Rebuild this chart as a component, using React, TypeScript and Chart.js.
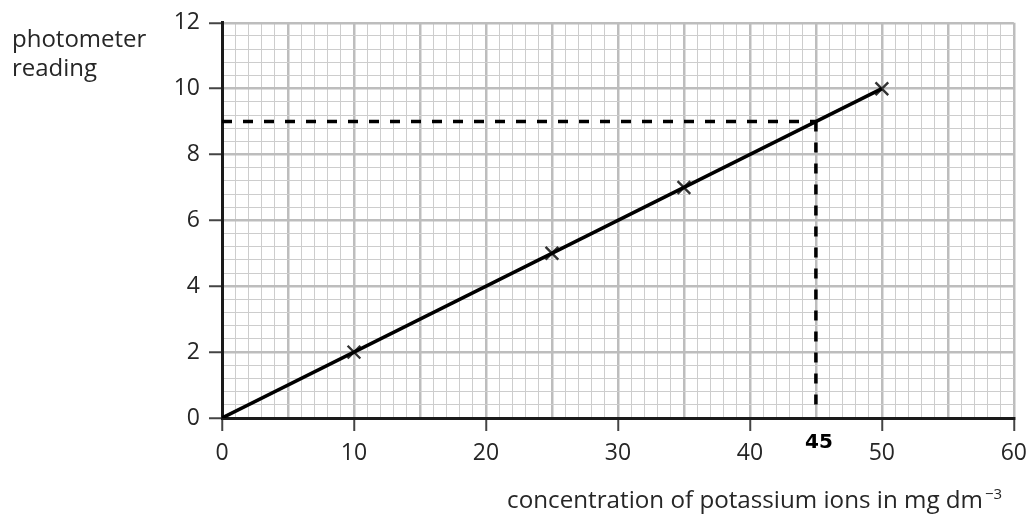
import React, { useEffect, useRef } from "react";
import { Chart, registerables } from "chart.js";

Chart.register(...registerables);

const xTickLabels = [0, 10, 20, 30, 40, 50, 60];
const yTickLabels = [0, 2, 4, 6, 8, 10, 12];
const concentration = [10, 25, 35, 50];
const reading = [2, 5, 7, 10];
const fitX = [0, 50];
const fitY = [0, 10];
const readOffX = [0, 45, 45];
const readOffY = [9, 9, 0.15];
const readLabel = "45";
const yTitleLines = ["photometer", "reading"];
const xTitle = "concentration of potassium ions in mg dm";
const xTitleSup = "\u22123";

const FONT = "'Open Sans', 'Noto Sans', sans-serif";
const TEXT = "#262626";

const isMult = (v: number, m: number) => Math.abs(v / m - Math.round(v / m)) < 1e-6;

const textPlugin = {
  id: "texts",
  afterDraw(chart: any) {
    const ctx = chart.ctx;
    const xs = chart.scales.x;
    ctx.save();
    ctx.fillStyle = TEXT;
    ctx.textAlign = "left";
    ctx.textBaseline = "alphabetic";
    ctx.font = `24px ${FONT}`;
    ctx.fillText(yTitleLines[0], 12, 47);
    ctx.fillText(yTitleLines[1], 12, 76);

    ctx.font = `24.2px ${FONT}`;
    ctx.textAlign = "right";
    ctx.fillText(xTitle, 983, 508);
    ctx.font = `15px ${FONT}`;
    ctx.textAlign = "left";
    ctx.fillText(xTitleSup, 985, 499);

    ctx.fillStyle = "#000";
    ctx.font = `bold 20px 'DejaVu Sans', sans-serif`;
    ctx.textAlign = "center";
    ctx.textBaseline = "middle";
    ctx.fillText(readLabel, xs.getPixelForValue(readOffX[1]) + 3, 443);
    ctx.restore();
  },
};

export default function App() {
  const ref = useRef<HTMLCanvasElement>(null);
  useEffect(() => {
    if (!ref.current) return;
    const chart = new Chart(ref.current, {
      type: "scatter",
      data: {
        datasets: [
          {
            data: readOffX.slice(0, 2).map((x, i) => ({ x, y: readOffY[i] })),
            showLine: true,
            borderColor: "#000",
            borderWidth: 3.5,
            borderDash: [10, 11],
            pointRadius: 0,
          },
          {
            data: readOffX.slice(1).map((x, i) => ({ x, y: readOffY[i + 1] })),
            showLine: true,
            borderColor: "#000",
            borderWidth: 3.5,
            borderDash: [10, 11],
            pointRadius: 0,
          },
          {
            data: fitX.map((x, i) => ({ x, y: fitY[i] })),
            showLine: true,
            borderColor: "#000",
            borderWidth: 3.5,
            pointRadius: 0,
          },
          {
            data: concentration.map((x, i) => ({ x, y: reading[i] })),
            showLine: false,
            pointStyle: "crossRot",
            pointRadius: 9,
            pointBorderColor: "#333",
            pointBorderWidth: 2.4,
          },
        ],
      },
      options: {
        animation: false,
        responsive: true,
        maintainAspectRatio: false,
        layout: { padding: { left: 0, top: 22, right: 19, bottom: 0 } },
        plugins: { legend: { display: false }, tooltip: { enabled: false } },
        scales: {
          x: {
            type: "linear",
            min: 0,
            max: 60,
            afterFit: (s: any) => {
              s.height = 99;
            },
            ticks: {
              stepSize: 1,
              autoSkip: false,
              maxRotation: 0,
              padding: 9,
              color: TEXT,
              font: { size: 23, family: FONT },
              callback: (v: any) => (xTickLabels.some((t) => Math.abs(Number(v) - t) < 1e-6) ? String(Math.round(Number(v))) : ""),
            },
            grid: {
              color: (c: any) => (isMult(c.tick.value, 5) ? "#bdbdbd" : "#cdcdcd"),
              lineWidth: (c: any) => (isMult(c.tick.value, 5) ? 2.5 : 1),
              tickColor: (c: any) => (isMult(c.tick.value, 10) ? "#444" : "rgba(0,0,0,0)"),
              tickWidth: 2,
              tickLength: 13,
            },
            border: { display: true, color: "#1a1a1a", width: 3 },
          },
          y: {
            type: "linear",
            min: 0,
            max: 12,
            afterFit: (s: any) => {
              s.width = 222;
            },
            ticks: {
              stepSize: 0.4,
              autoSkip: false,
              padding: 9,
              color: TEXT,
              font: { size: 23, family: FONT },
              callback: (v: any) => (yTickLabels.some((t) => Math.abs(Number(v) - t) < 1e-6) ? String(Math.round(Number(v))) : ""),
            },
            grid: {
              color: (c: any) => (isMult(c.tick.value, 2) ? "#bdbdbd" : "#cdcdcd"),
              lineWidth: (c: any) => (isMult(c.tick.value, 2) ? 2.5 : 1),
              tickColor: (c: any) => (isMult(c.tick.value, 2) ? "#444" : "rgba(0,0,0,0)"),
              tickWidth: 2,
              tickLength: 13,
            },
            border: { display: true, color: "#1a1a1a", width: 3 },
          },
        },
      },
      plugins: [textPlugin],
    });
    return () => chart.destroy();
  }, []);
  return (
    <div style={{ position: "fixed", left: 0, top: 0, width: 1036, height: 517, background: "#fff" }}>
      <canvas ref={ref} />
    </div>
  );
}
